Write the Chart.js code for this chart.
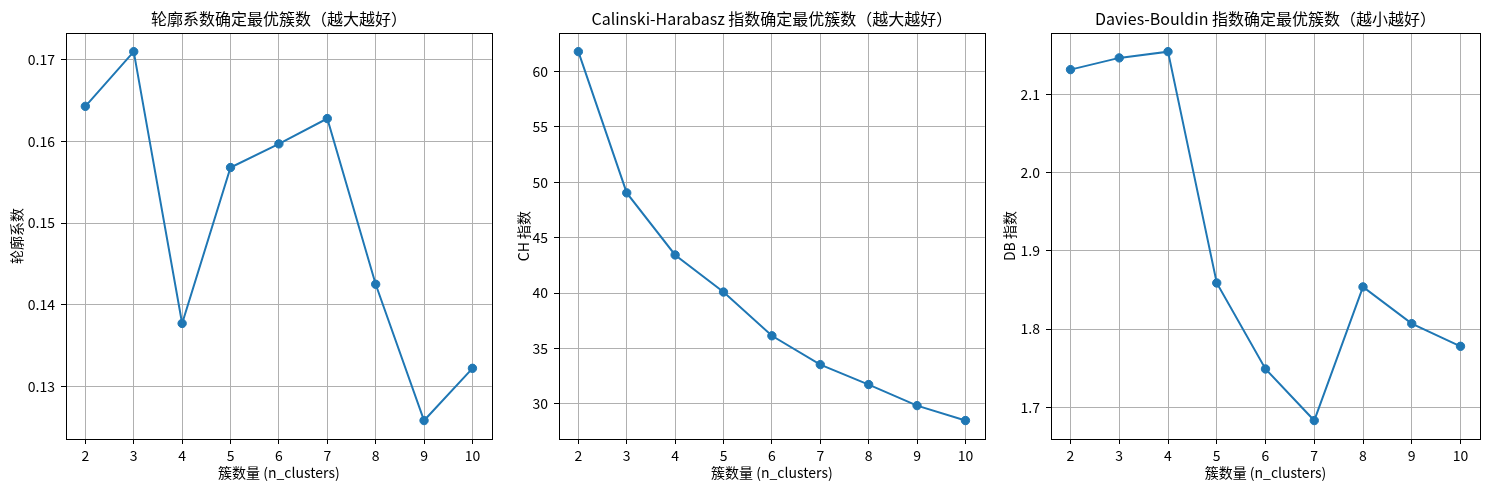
<!DOCTYPE html>
<html>
<head>
<meta charset="utf-8">
<script src="https://cdn.jsdelivr.net/npm/chart.js@4"></script>
<style>
  body { margin: 0; background: #fff; }
  #figura { position: relative; width: 1489px; height: 490px; }
  #figura canvas { position: absolute; top: 0; }
</style>
</head>
<body>
<div id="figura"></div>
<script>
// Datos
const clusters = [2, 3, 4, 5, 6, 7, 8, 9, 10];
const silueta = [0.1643, 0.1710, 0.1377, 0.1568, 0.1597, 0.1628, 0.1425, 0.1258, 0.1322];
const indiceCH = [61.8, 49.05, 43.45, 40.1, 36.15, 33.55, 31.75, 29.85, 28.5];
const indiceDB = [2.132, 2.147, 2.155, 1.859, 1.749, 1.683, 1.854, 1.807, 1.778];

// Marcas de los ejes
const ticksX = [2, 3, 4, 5, 6, 7, 8, 9, 10];
const ticksSilueta = [0.13, 0.14, 0.15, 0.16, 0.17];
const etiquetasSilueta = ["0.13", "0.14", "0.15", "0.16", "0.17"];
const ticksCH = [30, 35, 40, 45, 50, 55, 60];
const etiquetasCH = ["30", "35", "40", "45", "50", "55", "60"];
const ticksDB = [1.7, 1.8, 1.9, 2.0, 2.1];
const etiquetasDB = ["1.7", "1.8", "1.9", "2.0", "2.1"];

Chart.defaults.font.family = '"Noto Sans CJK SC", sans-serif';
Chart.defaults.color = "#000";

const figura = document.getElementById("figura");

// margen del 5% como matplotlib
function rango(valores) {
  const min = Math.min(...valores);
  const max = Math.max(...valores);
  const m = (max - min) * 0.05;
  return { min: min - m, max: max + m };
}

// marco completo alrededor del área del gráfico
const marco = {
  id: "marco",
  afterDraw(chart) {
    const { left, top, right, bottom } = chart.chartArea;
    const ctx = chart.ctx;
    ctx.save();
    ctx.strokeStyle = "#000";
    ctx.lineWidth = 1;
    ctx.strokeRect(Math.round(left) + 0.5, Math.round(top) + 0.5,
      Math.round(right - left), Math.round(bottom - top));
    ctx.restore();
  },
};

function crearGrafico(cfg) {
  const canvas = document.createElement("canvas");
  canvas.width = cfg.ancho;
  canvas.height = 490;
  canvas.style.left = cfg.izquierda + "px";
  figura.appendChild(canvas);

  const rx = rango(clusters);
  const ry = rango(cfg.valores);

  new Chart(canvas, {
    type: "line",
    data: {
      datasets: [{
        data: clusters.map((k, i) => ({ x: k, y: cfg.valores[i] })),
        borderColor: "#1f77b4",
        backgroundColor: "#1f77b4",
        borderWidth: 2,
        pointRadius: 4.2,
        pointBorderWidth: 1,
        pointBorderColor: "#1f77b4",
        pointBackgroundColor: "#1f77b4",
        tension: 0,
      }],
    },
    options: {
      responsive: false,
      animation: false,
      layout: { padding: { left: 0, right: cfg.derecha, top: 0, bottom: 0 } },
      plugins: {
        legend: { display: false },
        tooltip: { enabled: false },
        title: {
          display: true,
          text: cfg.titulo,
          fullSize: false,
          font: { size: 16, weight: "normal" },
          padding: { top: 9, bottom: 5 },
        },
      },
      scales: {
        x: {
          type: "linear",
          min: rx.min,
          max: rx.max,
          afterBuildTicks: (s) => { s.ticks = ticksX.map((v) => ({ value: v })); },
          afterFit: (s) => { s.height = 51; },
          ticks: { autoSkip: false, maxRotation: 0, padding: 3, font: { size: 14 },
            callback: (v) => String(v) },
          grid: { color: "#b0b0b0", lineWidth: 1, tickColor: "#000", tickLength: 5 },
          border: { display: false },
          title: { display: true, text: "簇数量 (n_clusters)", font: { size: 14 },
            padding: { top: 0, bottom: 9 } },
        },
        y: {
          type: "linear",
          min: ry.min,
          max: ry.max,
          afterBuildTicks: (s) => { s.ticks = cfg.ticks.map((v) => ({ value: v })); },
          afterFit: (s) => { s.width = cfg.anchoY; },
          ticks: { autoSkip: false, padding: 6, font: { size: 14 },
            callback: (v, i) => cfg.etiquetas[i] },
          grid: { color: "#b0b0b0", lineWidth: 1, tickColor: "#000", tickLength: 5 },
          border: { display: false },
          title: { display: true, text: cfg.tituloY, font: { size: 14 },
            padding: { top: cfg.padTituloY, bottom: 0 } },
        },
      },
    },
    plugins: [marco],
  });
}

crearGrafico({
  izquierda: 0, ancho: 497, derecha: 2, anchoY: 66, padTituloY: 8,
  titulo: "轮廓系数确定最优簇数（越大越好）", tituloY: "轮廓系数",
  valores: silueta, ticks: ticksSilueta, etiquetas: etiquetasSilueta,
});

crearGrafico({
  izquierda: 497, ancho: 493, derecha: 3, anchoY: 62, padTituloY: 18,
  titulo: "Calinski-Harabasz 指数确定最优簇数（越大越好）", tituloY: "CH 指数",
  valores: indiceCH, ticks: ticksCH, etiquetas: etiquetasCH,
});

crearGrafico({
  izquierda: 990, ancho: 499, derecha: 9, anchoY: 61, padTituloY: 11,
  titulo: "Davies-Bouldin 指数确定最优簇数（越小越好）", tituloY: "DB 指数",
  valores: indiceDB, ticks: ticksDB, etiquetas: etiquetasDB,
});
</script>
</body>
</html>
